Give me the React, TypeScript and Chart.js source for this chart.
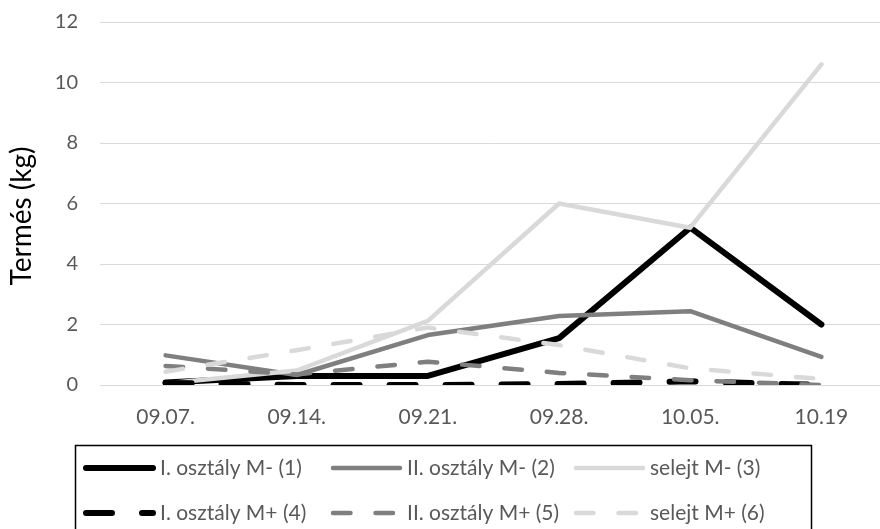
import React, { useEffect, useRef } from "react";
import { Chart, registerables } from "chart.js";

Chart.register(...registerables);

// ---- data ----
const categories = ["09.07.", "09.14.", "09.21.", "09.28.", "10.05.", "10.19"];
const seriesNames = [
  "I. osztály M- (1)",
  "II. osztály M- (2)",
  "selejt M- (3)",
  "I. osztály M+ (4)",
  "II. osztály M+ (5)",
  "selejt M+ (6)",
];
const s1 = [0.08, 0.3, 0.3, 1.55, 5.2, 2.0];
const s2 = [0.98, 0.33, 1.65, 2.28, 2.44, 0.93];
const s3 = [0.05, 0.48, 2.12, 6.0, 5.2, 10.6];
const s4 = [0.07, 0.0, 0.0, 0.03, 0.12, 0.0];
const s5 = [0.63, 0.35, 0.77, 0.4, 0.16, 0.0];
const s6 = [0.44, 1.15, 1.9, 1.32, 0.55, 0.2];
const yMin = 0;
const yMax = 12;
const yStep = 2;
const yTitle = "Termés (kg)";

// ---- styles ----
const BLACK = "#000000";
const GRAY = "#7f7f7f";
const LIGHT = "#d9d9d9";
const FONT = "Lato";
const TEXT = "#595959";

const styles = [
  { color: BLACK, width: 6, dash: [] as number[] },
  { color: GRAY, width: 4.5, dash: [] as number[] },
  { color: LIGHT, width: 4.5, dash: [] as number[] },
  { color: BLACK, width: 6, dash: [26, 30] },
  { color: GRAY, width: 4.5, dash: [17.5, 25] },
  { color: LIGHT, width: 4.5, dash: [17.5, 25] },
];
const seriesData = [s1, s2, s3, s4, s5, s6];

// legend layout
const legendBox = { x: 75.5, y: 445.5, w: 736, h: 100 };
const legendColX = [86, 333, 576];
const legendRowY = [468, 513];
const sampleLen = 67;

const customPlugin = {
  id: "customDecor",
  afterDraw(chart: any) {
    const ctx = chart.ctx as CanvasRenderingContext2D;
    ctx.save();
    ctx.strokeStyle = "#000";
    ctx.lineWidth = 1.5;
    ctx.setLineDash([]);
    ctx.strokeRect(legendBox.x, legendBox.y, legendBox.w, legendBox.h);
    chart.data.datasets.forEach((ds: any, i: number) => {
      const col = i % 3;
      const row = Math.floor(i / 3);
      const x0 = legendColX[col];
      const y = legendRowY[row];
      ctx.beginPath();
      ctx.setLineDash(ds.borderDash || []);
      ctx.lineCap = "round";
      ctx.strokeStyle = ds.borderColor;
      ctx.lineWidth = ds.borderWidth;
      ctx.moveTo(x0, y);
      ctx.lineTo(x0 + sampleLen, y);
      ctx.stroke();
      ctx.setLineDash([]);
      ctx.fillStyle = TEXT;
      ctx.font = `21px ${FONT}`;
      ctx.textBaseline = "middle";
      ctx.textAlign = "left";
      ctx.fillText(ds.label, x0 + sampleLen + 7, y);
    });
    ctx.translate(22, 216);
    ctx.rotate(-Math.PI / 2);
    ctx.textAlign = "center";
    ctx.textBaseline = "middle";
    ctx.font = `28px ${FONT}`;
    ctx.fillStyle = "#000";
    ctx.fillText(yTitle, 0, 0);
    ctx.restore();
  },
};

export default function App() {
  const ref = useRef<HTMLCanvasElement | null>(null);
  useEffect(() => {
    if (!ref.current) return;
    const chart = new Chart(ref.current, {
      type: "line",
      data: {
        labels: categories,
        datasets: seriesData.map((d, i) => ({
          label: seriesNames[i],
          data: d,
          borderColor: styles[i].color,
          backgroundColor: styles[i].color,
          borderWidth: styles[i].width,
          borderDash: styles[i].dash,
          borderCapStyle: "round",
          borderJoinStyle: "round",
          pointRadius: 0,
          tension: 0,
          fill: false,
          order: 6 - i,
        })),
      },
      options: {
        animation: false,
        responsive: false,
        maintainAspectRatio: false,
        layout: { padding: { top: 22, right: 13, left: 0, bottom: 0 } },
        plugins: {
          legend: { display: false },
          tooltip: { enabled: false },
        },
        scales: {
          x: {
            offset: true,
            grid: { display: false, drawTicks: false, offset: true },
            border: { color: LIGHT },
            ticks: {
              color: TEXT,
              font: { family: FONT, size: 21 },
              padding: 20,
              maxRotation: 0,
              autoSkip: false,
            },
            afterFit: (s: any) => {
              s.height = 144;
              s.paddingLeft = 0;
              s.paddingRight = 0;
            },
          },
          y: {
            min: yMin,
            max: yMax,
            ticks: {
              stepSize: yStep,
              color: TEXT,
              font: { family: FONT, size: 20 },
              padding: 22,
            },
            grid: { color: LIGHT, drawTicks: false, lineWidth: 1 },
            border: { display: false },
            afterFit: (s: any) => {
              s.width = 100;
              s.paddingTop = 0;
              s.paddingBottom = 0;
            },
          },
        },
      },
      plugins: [customPlugin],
    } as any);
    return () => chart.destroy();
  }, []);
  return (
    <div
      style={{
        position: "fixed",
        left: 0,
        top: 0,
        width: 880,
        height: 529,
        overflow: "hidden",
        background: "#fff",
      }}
    >
      <canvas ref={ref} width={900} height={529} style={{ width: 900, height: 529, display: "block" }} />
    </div>
  );
}
